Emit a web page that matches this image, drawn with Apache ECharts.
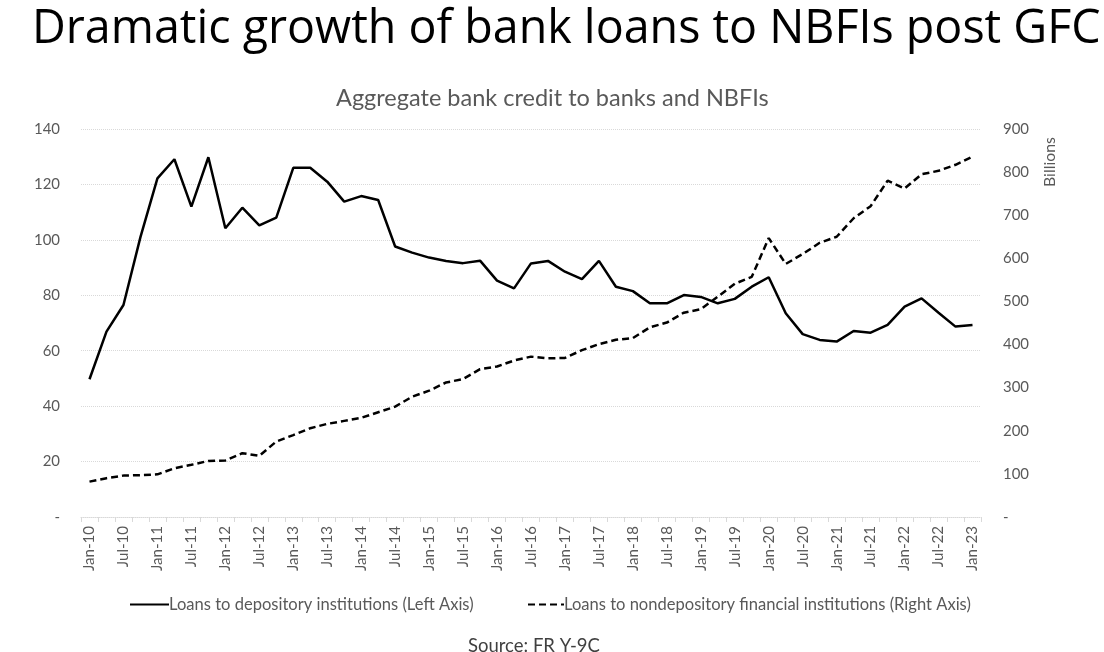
<!DOCTYPE html>
<html>
<head>
<meta charset="utf-8">
<script src="https://cdn.jsdelivr.net/npm/echarts@6/dist/echarts.min.js"></script>
<style>
html,body{margin:0;padding:0;background:#fff;}
#chart{width:1104px;height:652px;}
</style>
</head>
<body>
<div id="chart"></div>
<script>
// Quarterly categories Jan-10 .. Jan-23
const months = ['Jan','Apr','Jul','Oct'];
const categories = [];
for (let y = 10; y <= 23; y++) {
  for (let q = 0; q < 4; q++) {
    if (y === 23 && q > 0) break;
    categories.push(months[q] + '-' + y);
  }
}

// Loans to depository institutions (left axis)
const depository = [
  49.7, 66.9, 76.5, 101.0, 122.2, 129.1, 112.0, 129.8,
  104.2, 111.6, 105.2, 108.0, 126.0, 126.0, 121.0, 113.8,
  115.8, 114.4, 97.6, 95.4, 93.6, 92.4, 91.6, 92.5,
  85.3, 82.5, 91.5, 92.4, 88.5, 85.8, 92.4, 83.1,
  81.5, 77.1, 77.1, 80.1, 79.4, 77.1, 78.7, 83.1,
  86.5, 73.5, 66.0, 63.9, 63.3, 67.1, 66.5, 69.3,
  75.9, 78.9, 73.7, 68.7, 69.3
];

// Loans to nondepository financial institutions (right axis, billions)
const nondepository = [
  82, 90, 96, 97, 99, 113, 121, 130,
  131, 148, 142, 175, 190, 206, 216, 223,
  230, 243, 256, 279, 293, 312, 320, 343,
  349, 363, 372, 368, 369, 387, 401, 411,
  415, 440, 451, 474, 482, 511, 541, 557,
  647, 587, 610, 636, 650, 693, 721, 780,
  762, 795, 803, 817, 836
];

const titleText = 'Dramatic growth of bank loans to NBFIs post GFC';
const subtitleText = 'Aggregate bank credit to banks and NBFIs';
const sourceText = 'Source: FR Y-9C';
const unitText = 'Billions';
const legendNames = [
  'Loans to depository institutions (Left Axis)',
  'Loans to nondepository financial institutions (Right Axis)'
];

const FONT = 'Lato, "Open Sans", sans-serif';
const TFONT = '"Open Sans", Lato, sans-serif';
const ctx = document.createElement('canvas').getContext('2d');
function fit(text, target, font) {
  ctx.font = '100px ' + (font || FONT);
  const w = ctx.measureText(text).width;
  return 100 * target / w;
}
const titleSize = fit(titleText, 1069, TFONT);
const subSize = fit(subtitleText, 433);
const sourceSize = fit(sourceText, 132);
const legSize = fit(legendNames[0], 305);
const xLabSize = fit('Jan-10', 45);
const yLabSize = fit('140', 26);
const unitSize = fit(unitText, 50);
const zeroDash = v => (v === 0 ? '-' : String(v));

const chart = echarts.init(document.getElementById('chart'));
chart.setOption({
  backgroundColor: '#fff',
  animation: false,
  title: [
    { text: titleText, left: 27, top: 1,
      textStyle: { fontFamily: TFONT, fontSize: titleSize, fontWeight: 'normal', color: '#000' } },
    { text: subtitleText, left: 331, top: 81,
      textStyle: { fontFamily: FONT, fontSize: subSize, fontWeight: 'normal', color: '#595959' } },
    { text: sourceText, left: 463, top: 632,
      textStyle: { fontFamily: FONT, fontSize: sourceSize, fontWeight: 'normal', color: '#404040' } }
  ],
  grid: { left: 81, right: 123, top: 129, bottom: 135, containLabel: false },
  legend: [
    { data: [legendNames[0]], left: 124, top: 591, itemWidth: 39, itemHeight: 14, itemGap: 0,
      itemStyle: { opacity: 0 },
      textStyle: { fontFamily: FONT, fontSize: legSize, color: '#595959', padding: [0,0,0,-5] } },
    { data: [legendNames[1]], left: 522, top: 591, itemWidth: 36, itemHeight: 14, itemGap: 0,
      itemStyle: { opacity: 0 },
      textStyle: { fontFamily: FONT, fontSize: legSize, color: '#595959', padding: [0,0,0,-5] } }
  ],
  xAxis: {
    type: 'category',
    data: categories,
    boundaryGap: true,
    axisLine: { lineStyle: { color: '#d9d9d9', type: 'dotted' } },
    axisTick: { show: true, interval: 0, length: 5, lineStyle: { color: '#d9d9d9' } },
    axisLabel: { interval: 1, rotate: 90, color: '#595959', fontFamily: FONT, fontSize: xLabSize, margin: 9 }
  },
  yAxis: [
    { type: 'value', min: 0, max: 140, interval: 20, position: 'left',
      axisLine: { show: false }, axisTick: { show: false },
      splitLine: { lineStyle: { color: '#d9d9d9', type: 'dotted' } },
      axisLabel: { formatter: zeroDash, color: '#595959', fontFamily: FONT, fontSize: yLabSize, margin: 21 } },
    { type: 'value', min: 0, max: 900, interval: 100, position: 'right',
      axisLine: { show: false }, axisTick: { show: false },
      splitLine: { show: false },
      axisLabel: { formatter: zeroDash, color: '#595959', fontFamily: FONT, fontSize: yLabSize, margin: 22 } }
  ],
  graphic: [
    { type: 'text', x: 1042, y: 187, rotation: Math.PI / 2,
      style: { text: unitText, fill: '#595959', font: unitSize + 'px ' + FONT, textVerticalAlign: 'top' } }
  ],
  series: [
    { name: legendNames[0], type: 'line', yAxisIndex: 0, data: depository,
      symbol: 'none', lineStyle: { color: '#000', width: 2.5, type: 'solid' }, itemStyle: { color: '#000' } },
    { name: legendNames[1], type: 'line', yAxisIndex: 1, data: nondepository,
      symbol: 'none', lineStyle: { color: '#000', width: 2.5, type: [7, 4] }, itemStyle: { color: '#000' } }
  ]
});
</script>
</body>
</html>
